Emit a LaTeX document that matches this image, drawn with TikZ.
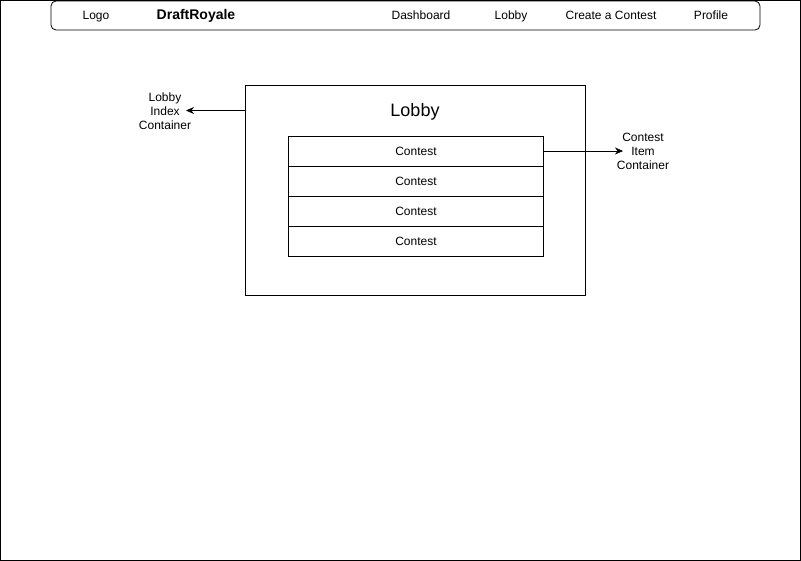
\documentclass[tikz,border=0pt]{standalone}
\usepackage{fontspec}
\setmainfont{Liberation Sans}
\usetikzlibrary{arrows.meta,positioning}

\tikzset{
  navtext/.style={font=\fontsize{12}{14}\selectfont, inner sep=0pt, text height=8.6pt, text depth=2.5pt},
  rowbox/.style={draw, minimum width=255pt, minimum height=30pt, inner sep=0pt, outer sep=0pt, font=\fontsize{12}{14}\selectfont},
  notetext/.style={align=center, font=\fontsize{12}{14}\selectfont, inner sep=0pt},
  pointer/.style={-{Stealth[length=8pt,width=7pt]}, semithick}
}

\begin{document}
\begin{tikzpicture}[x=1pt,y=-1pt,line width=0.8pt]
	\useasboundingbox (0,0) rectangle (801,561);
	\draw (0.5,0.5) rectangle (800.5,560.5);
	% navigation bar
	\draw[rounded corners=5pt] (51,1) rectangle (760,30);
	\node[navtext] (logo) at (96,16) {Logo};
	\node[navtext, font=\fontsize{14}{16}\selectfont\bfseries] (brand) at (196,16) {DraftRoyale};
	\node[navtext] (dash) at (421,16) {Dashboard};
	\node[navtext] (lobbylink) at (511,16) {Lobby};
	\node[navtext] (create) at (611,16) {Create a Contest};
	\node[navtext] (profile) at (711,16) {Profile};
	% lobby container
	\node[draw, minimum width=340pt, minimum height=210pt, inner sep=0pt] (lobby) at (415.5,190.5) {};
	\node[font=\fontsize{18}{20}\selectfont] (title) at (415,112) {Lobby};
	\node[rowbox] (c1) at (416,151) {Contest};
	\node[rowbox, below=0pt of c1] (c2) {Contest};
	\node[rowbox, below=0pt of c2] (c3) {Contest};
	\node[rowbox, below=0pt of c3] (c4) {Contest};
	% annotations
	\node[notetext] (lobbynote) at (165,111) {Lobby\\Index\\Container};
	\node[notetext] (itemnote) at (643,151) {Contest\\Item\\Container};
	\coordinate (lobbyedge) at (lobby.west |- 0,110.5);
	\coordinate (lobbytip) at (186,110.5);
	\coordinate (itemtip) at (623,151);
	\draw[pointer] (lobbyedge) -- (lobbytip);
	\draw[pointer] (c1.east) -- (itemtip);
\end{tikzpicture}
\end{document}
